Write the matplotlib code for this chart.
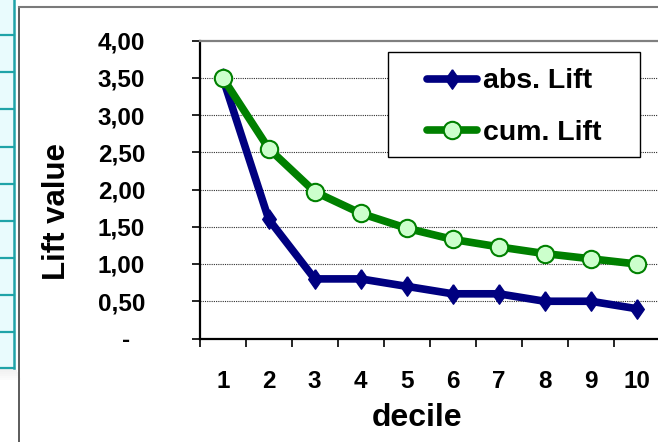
import numpy as np
import matplotlib
matplotlib.use('Agg')
import matplotlib.pyplot as plt
from matplotlib.patches import Rectangle
from matplotlib.lines import Line2D
from matplotlib.transforms import ScaledTranslation

plt.rcParams['font.family'] = ['Liberation Sans', 'DejaVu Sans']
plt.rcParams['font.weight'] = 'bold'

# lift per decile
deciles = list(range(1, 11))
abs_lift = [3.50, 1.60, 0.80, 0.80, 0.70, 0.60, 0.60, 0.50, 0.50, 0.40]
cum_lift = [3.50, 2.55, 1.97, 1.68, 1.48, 1.33, 1.23, 1.14, 1.07, 1.00]
yticks = [0.0, 0.5, 1.0, 1.5, 2.0, 2.5, 3.0, 3.5, 4.0]
ytick_labels = ['-', '0,50', '1,00', '1,50', '2,00', '2,50', '3,00', '3,50', '4,00']

W, H = 658, 442
fig = plt.figure(figsize=(W / 100, H / 100), dpi=100)

def fx(px):
    return px / W

def fy(py):
    return 1 - py / H

# spreadsheet strip peeking out on the left
fig.patches.append(Rectangle((0, fy(368)), fx(14), fy(0) - fy(368),
                             transform=fig.transFigure, facecolor='#e9fbfd',
                             edgecolor='none', zorder=0))
for i in range(6):
    fig.patches.append(Rectangle((0, fy(368 + 2 * i + 2)), fx(16 + i), fy(0) - fy(2),
                                 transform=fig.transFigure, facecolor='#808080',
                                 alpha=0.12 - 0.018 * i, edgecolor='none', zorder=0))
for y in [35, 72, 109, 147, 184, 221, 258, 295, 332, 368]:
    fig.lines.append(Line2D([0, fx(14)], [fy(y), fy(y)], transform=fig.transFigure,
                            color='#1fa3a8', lw=1.6))
fig.lines.append(Line2D([fx(13.5), fx(13.5)], [fy(368), 1], transform=fig.transFigure,
                        color='#1fa3a8', lw=1.8))

# chart area border
fig.lines.append(Line2D([fx(19), fx(19)], [0, fy(7)], transform=fig.transFigure,
                        color='#404040', lw=1.2))
fig.lines.append(Line2D([fx(19), 1], [fy(7), fy(7)], transform=fig.transFigure,
                        color='#7a7a7a', lw=1.5))

left, right, top, bottom = 199.7, 659.7, 40.5, 338.5
ax = fig.add_axes([fx(left), fy(bottom), fx(right - left), fy(top) - fy(bottom)])

diamond = [(0, 1), (0.7, 0), (0, -1), (-0.7, 0), (0, 1)]
ax.plot(deciles, abs_lift, color='#000080', lw=5.5, marker=diamond, ms=14,
        mfc='#000080', mec='#000080', label='abs. Lift', zorder=3,
        solid_joinstyle='round', solid_capstyle='round')
ax.plot(deciles, cum_lift, color='#008000', lw=5.5, marker='o', ms=12.5,
        mfc='#ccffcc', mec='#008000', mew=1.5, label='cum. Lift', zorder=3,
        solid_joinstyle='round', solid_capstyle='round')

ax.set_xlim(0.5, 10.5)
ax.set_ylim(0, 4)
ax.set_yticks(yticks)
ax.set_yticklabels(ytick_labels)
ax.set_xticks(deciles)
ax.set_xticks(np.arange(0.5, 11, 1), minor=True)

for v in yticks[1:-1]:
    ax.axhline(v, color='#303030', lw=0.8, ls=(0, (1, 1)), zorder=1)

ax.tick_params(axis='y', direction='out', length=5.8, width=1.2, pad=33.5,
               labelsize=17.5, colors='black')
ax.tick_params(axis='x', which='major', length=0, pad=23, labelsize=17.5)
ax.tick_params(axis='x', which='minor', direction='out', length=5.8, width=1.2)

# dash for zero sits left of the other labels
zero_lbl = ax.get_yticklabels()[0]
zero_lbl.set_transform(zero_lbl.get_transform()
                       + ScaledTranslation(-0.15, 0, fig.dpi_scale_trans))

for s in ['left', 'bottom']:
    ax.spines[s].set_linewidth(1.6)
    ax.spines[s].set_color('black')
ax.spines['top'].set_color('#808080')
ax.spines['top'].set_linewidth(1.6)
ax.spines['right'].set_visible(False)

ax.set_xlabel('decile', fontsize=23, fontweight='bold', va='center', ha='center')
ax.xaxis.set_label_coords((417 - left) / (right - left), (bottom - 418) / (bottom - top))
ax.set_ylabel('Lift value', fontsize=22.5, fontweight='bold', va='center', ha='center')
ax.yaxis.set_label_coords((57 - left) / (right - left), (bottom - 212) / (bottom - top))

# legend box
ax.add_patch(Rectangle((fx(388), fy(157)), fx(640 - 388), fy(52) - fy(157),
                       transform=fig.transFigure, facecolor='white',
                       edgecolor='black', lw=1.0, zorder=4))
leg = ax.legend(loc='center left', bbox_to_anchor=(fx(427), fy(107)),
                bbox_transform=fig.transFigure, frameon=False, borderpad=0,
                borderaxespad=0, handlelength=1.75, handletextpad=0.2,
                labelspacing=0.88, prop={'size': 20.5, 'weight': 'bold'})
leg.set_zorder(5)

fig.savefig('out.png', dpi=100, facecolor='white')
